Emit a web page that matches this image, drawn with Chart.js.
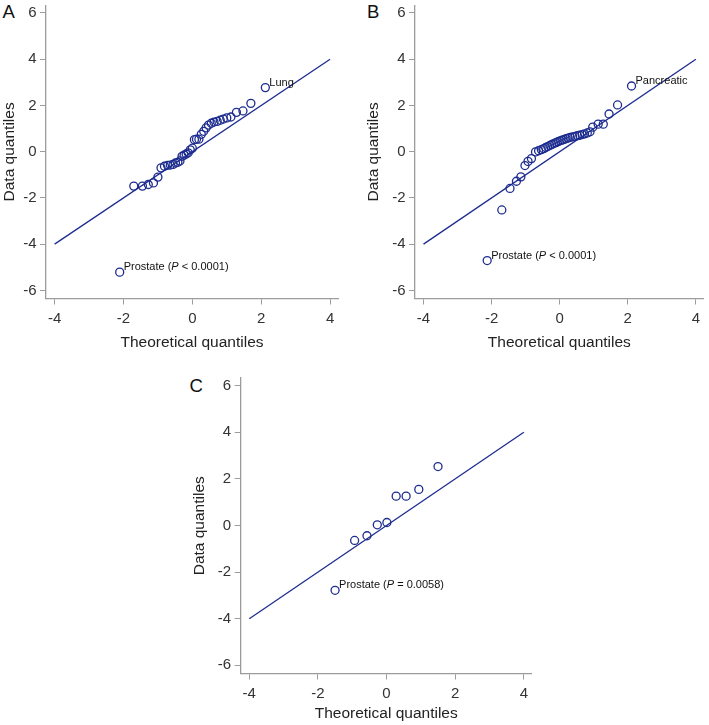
<!DOCTYPE html>
<html>
<head>
<meta charset="utf-8">
<script src="https://cdn.jsdelivr.net/npm/chart.js@4.4.1/dist/chart.umd.min.js"></script>
<style>
  body { margin: 0; background: #fff; width: 709px; height: 725px; position: relative; overflow: hidden;
         font-family: "Liberation Sans", Arial, sans-serif; }
  canvas { position: absolute; }
  .tag { position: absolute; font-size: 18.5px; line-height: 1; color: #111; }
</style>
</head>
<body>
<div class="tag" style="left:2.5px;top:3px">A</div>
<div class="tag" style="left:367px;top:3px">B</div>
<div class="tag" style="left:189.5px;top:377px">C</div>
<canvas id="qq-a" width="350" height="352" style="left:0;top:0"></canvas>
<canvas id="qq-b" width="345" height="352" style="left:364px;top:0"></canvas>
<canvas id="qq-c" width="350" height="363" style="left:190px;top:360px"></canvas>
<script>
// axis ticks shared by the three panels
const xTicks = [-4, -2, 0, 2, 4];
const yTicks = [-6, -4, -2, 0, 2, 4, 6];
const refLine = [-4, 4];

// Panel A
const aTheo = [-2.11, -1.70, -1.45, -1.28, -1.13, -1.00, -0.91, -0.81, -0.72, -0.64, -0.56, -0.49, -0.42,
  -0.36, -0.30, -0.24, -0.18, -0.12, -0.06, 0.00, 0.06, 0.12, 0.19, 0.26, 0.33, 0.40, 0.47, 0.55, 0.63,
  0.72, 0.81, 0.90, 1.00, 1.12, 1.28, 1.47, 1.70, 2.12];
const aData = [-5.21, -1.49, -1.49, -1.42, -1.35, -1.10, -0.70, -0.63, -0.59, -0.58, -0.55, -0.49, -0.46,
  -0.40, -0.20, -0.15, -0.10, -0.05, 0.08, 0.15, 0.52, 0.54, 0.54, 0.75, 0.88, 1.03, 1.15, 1.23, 1.28,
  1.31, 1.36, 1.41, 1.46, 1.50, 1.70, 1.76, 2.09, 2.77];
const aNotes = [[0, 'Prostate', '< 0.0001'], [37, 'Lung', null]];

// Panel B
const bTheo = [-2.13, -1.70, -1.46, -1.27, -1.14, -1.02, -0.93, -0.83, -0.71, -0.62, -0.54, -0.47, -0.41,
  -0.35, -0.29, -0.23, -0.17, -0.11, -0.05, 0.01, 0.07, 0.13, 0.19, 0.25, 0.31, 0.38, 0.45, 0.52, 0.59,
  0.66, 0.73, 0.81, 0.89, 0.97, 1.13, 1.28, 1.45, 1.70, 2.11];
const bData = [-4.71, -2.52, -1.59, -1.28, -1.09, -0.60, -0.42, -0.30, -0.01, 0.04, 0.09, 0.13, 0.18,
  0.22, 0.27, 0.31, 0.35, 0.39, 0.43, 0.47, 0.50, 0.53, 0.56, 0.59, 0.62, 0.64, 0.66, 0.69, 0.71,
  0.74, 0.77, 0.81, 0.86, 1.06, 1.19, 1.19, 1.63, 2.02, 2.84];
const bNotes = [[0, 'Prostate', '< 0.0001'], [38, 'Pancreatic', null]];

// Panel C
const cTheo = [-1.50, -0.93, -0.57, -0.27, 0.01, 0.28, 0.57, 0.94, 1.50];
const cData = [-2.78, -0.64, -0.44, 0.03, 0.13, 1.26, 1.26, 1.55, 2.53];
const cNotes = [[0, 'Prostate', '= 0.0058']];

const NAVY = '#1d2c8f';
const AXIS = '#9c9c9c';
const FONT = '"Liberation Sans", Arial, sans-serif';

function qqChart(id, theo, vals, notes, box) {
  // labels drawn next to the flagged points
  const noteLabels = {
    id: 'noteLabels',
    afterDatasetsDraw(chart) {
      const ctx = chart.ctx;
      const xs = chart.scales.x, ys = chart.scales.y;
      ctx.save();
      ctx.fillStyle = '#111';
      ctx.textBaseline = 'alphabetic';
      ctx.textAlign = 'left';
      notes.forEach(([i, name, p]) => {
        let px = xs.getPixelForValue(theo[i]) + 4;
        const py = ys.getPixelForValue(vals[i]) - 2;
        const parts = p ? [[name + ' (', ''], ['P', 'italic '], [' ' + p + ')', '']] : [[name, '']];
        parts.forEach(([t, style]) => {
          ctx.font = style + '11px ' + FONT;
          ctx.fillText(t, px, py);
          px += ctx.measureText(t).width;
        });
      });
      ctx.restore();
    }
  };

  const tickGrid = { display: true, drawOnChartArea: false, drawTicks: true, tickLength: 6, color: AXIS, lineWidth: 1 };

  return new Chart(document.getElementById(id), {
    type: 'scatter',
    data: {
      datasets: [{
        data: theo.map((t, i) => ({ x: t, y: vals[i] })),
        borderColor: NAVY,
        backgroundColor: 'rgba(0,0,0,0)',
        borderWidth: 1.3,
        pointRadius: 4,
        pointHoverRadius: 4,
      }, {
        type: 'line',
        data: refLine.map(v => ({ x: v, y: v })),
        borderColor: NAVY,
        borderWidth: 1.3,
        pointRadius: 0,
        fill: false,
      }]
    },
    plugins: [noteLabels],
    options: {
      responsive: false,
      animation: false,
      layout: { padding: { top: box.top, right: box.right, left: 0, bottom: 0 } },
      plugins: { legend: { display: false }, tooltip: { enabled: false } },
      scales: {
        x: {
          type: 'linear', min: -4.25, max: 4.23,
          afterBuildTicks: s => { s.ticks = xTicks.map(v => ({ value: v })); },
          // fixed box, no extra room for the end labels
          afterFit: s => { s.height = box.xh; s.paddingLeft = 0; s.paddingRight = 0; },
          ticks: { font: { family: FONT, size: 15 }, color: '#333', padding: 5, maxRotation: 0, autoSkip: false },
          grid: tickGrid,
          border: { display: true, color: AXIS, width: 1.3 },
          title: { display: true, text: 'Theoretical quantiles', color: '#222', font: { family: FONT, size: 15.5 }, padding: 0 }
        },
        y: {
          type: 'linear', min: -6.35, max: 6.33,
          afterBuildTicks: s => { s.ticks = yTicks.map(v => ({ value: v })); },
          afterFit: s => { s.width = box.yw; s.paddingTop = 0; s.paddingBottom = 0; },
          ticks: { font: { family: FONT, size: 15 }, color: '#333', padding: 3.5, autoSkip: false },
          grid: tickGrid,
          border: { display: true, color: AXIS, width: 1.3 },
          title: { display: true, text: 'Data quantiles', color: '#222', font: { family: FONT, size: 15.5 }, padding: 0 }
        }
      }
    }
  });
}

qqChart('qq-a', aTheo, aData, aNotes, { top: 3, right: 12, yw: 46, xh: 53.5 });
qqChart('qq-b', bTheo, bData, bNotes, { top: 3, right: 3, yw: 51, xh: 53.5 });
qqChart('qq-c', cTheo, cData, cNotes, { top: 18, right: 8.3, yw: 50.7, xh: 49.5 });
</script>
</body>
</html>
